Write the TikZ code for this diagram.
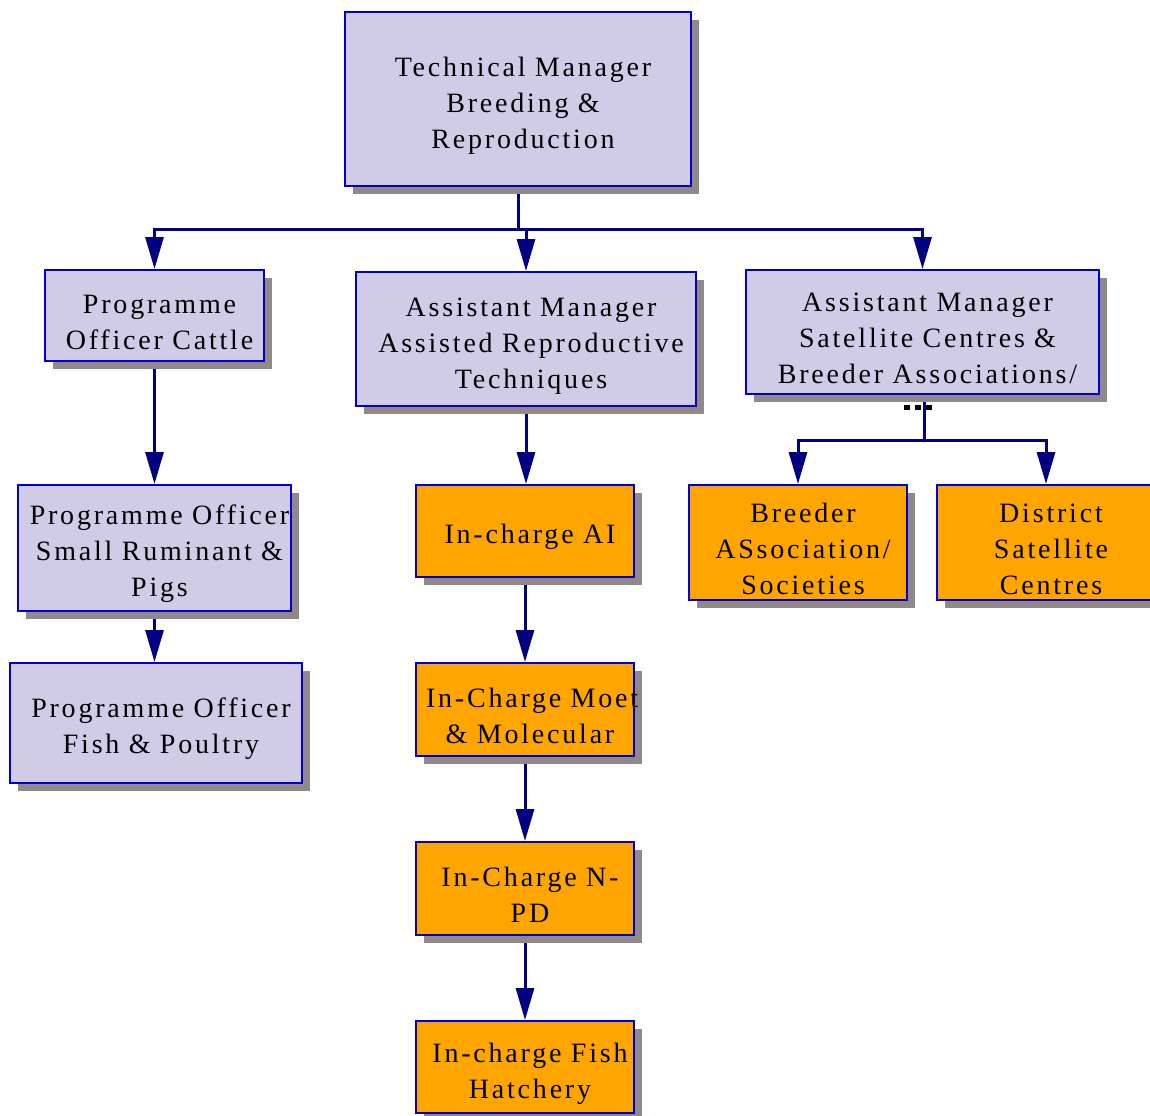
\documentclass[tikz,border=0pt]{standalone}
\usepackage{fontspec}
\setmainfont{Liberation Serif}[LetterSpace=10]
\usetikzlibrary{arrows.meta,shadows,backgrounds,calc}
\definecolor{lav}{RGB}{208,204,232}
\definecolor{orng}{RGB}{255,165,0}
\definecolor{edge}{RGB}{0,0,210}
\definecolor{navy}{RGB}{0,0,128}
\definecolor{shgrey}{RGB}{145,136,136}
\begin{document}
\begin{tikzpicture}[x=0.5pt,y=-0.5pt,
  box/.style={draw=edge, line width=1pt, inner sep=0pt, align=center,
    font=\fontsize{14pt}{18pt}\selectfont,
    % a tall invisible strut lowers each block of text a little,
    % and a small left indent moves it slightly to the right
    execute at begin node={\advance\leftskip by 5pt\rule{0pt}{16pt}},
    drop shadow={shadow xshift=4pt,shadow yshift=-4pt,fill=shgrey,opacity=1}},
  lavbox/.style={box, fill=lav},
  orbox/.style={box, fill=orng},
  link/.style={draw=navy, line width=1.5pt},
  arr/.style={link, -{Triangle[length=16pt,width=9pt]}}]
\useasboundingbox (0,0) rectangle (1150,1115);

% top of the chart
\node[lavbox, text width=173pt, minimum height=87pt] (tm) at (518,99)
  {Technical Manager\\Breeding \&\\Reproduction};

% second level
\node[lavbox, text width=109.5pt, minimum height=45.5pt] (poc) at (154.5,315.5)
  {Programme\\\mbox{Officer Cattle}};
\node[lavbox, text width=170pt, minimum height=67pt] (amart) at (526,339)
  {Assistant Manager\\\mbox{Assisted Reproductive}\\Techniques};
\node[lavbox, text width=176.5pt, minimum height=62pt] (amsat) at (922.5,332)
  {Assistant Manager\\Satellite Centres \&\\\mbox{Breeder Associations/}};

% left column
\node[lavbox, text width=136.5pt, minimum height=63pt] (posr) at (154.5,548)
  {\mbox{Programme Officer}\\\mbox{Small Ruminant \&}\\Pigs};
\node[lavbox, text width=146pt, minimum height=60pt] (pof) at (156,723)
  {\mbox{Programme Officer}\\Fish \& Poultry};

% middle column
\node[orbox, text width=109pt, minimum height=46pt] (ai) at (525,531)
  {In-charge AI};
\node[orbox, text width=109pt, minimum height=46.5pt] (moet) at (525,709.5)
  {\mbox{In-Charge Moet}\\\& Molecular};
\node[orbox, text width=109pt, minimum height=46.5pt] (npd) at (525,888.5)
  {\mbox{In-Charge N-}\\PD};
\node[orbox, text width=109pt, minimum height=46pt] (hatch) at (525,1067)
  {\mbox{In-charge Fish}\\Hatchery};

% right column
\node[orbox, text width=109pt, minimum height=57.5pt] (breed) at (798,542.5)
  {Breeder\\ASsociation/\\Societies};
\node[orbox, text width=109pt, minimum height=57.5pt] (dist) at (1046,542.5)
  {District\\Satellite\\Centres};

% overflow marks under the satellite box
\fill[black] (904,405) rectangle (910,410);
\fill[black] (915,405) rectangle (921,410);
\fill[black] (926,405) rectangle (932,410);

% connectors run beneath the boxes and their shadows
\begin{pgfonlayer}{background}
  \coordinate (bus) at (518,229);
  \draw[link] (tm.south) -- (bus);
  \draw[arr] (bus) -| (poc.north);
  \draw[arr] (bus) -| (amsat.north);
  \draw[arr] (bus -| amart.north) -- (amart.north);

  \draw[arr] (poc.south) -- (posr.north);
  \draw[arr] (posr.south) -- (posr.south |- pof.north);

  \draw[arr] (amart.south) -- (amart.south |- ai.north);
  \draw[arr] (ai.south) -- (moet.north);
  \draw[arr] (moet.south) -- (npd.north);
  \draw[arr] (npd.south) -- (hatch.north);

  \coordinate (bus2) at (924,440);
  \draw[link] (amsat.south -| bus2) -- (bus2);
  \draw[arr] (bus2) -| (breed.north);
  \draw[arr] (bus2) -| (dist.north);
\end{pgfonlayer}
\end{tikzpicture}
\end{document}
